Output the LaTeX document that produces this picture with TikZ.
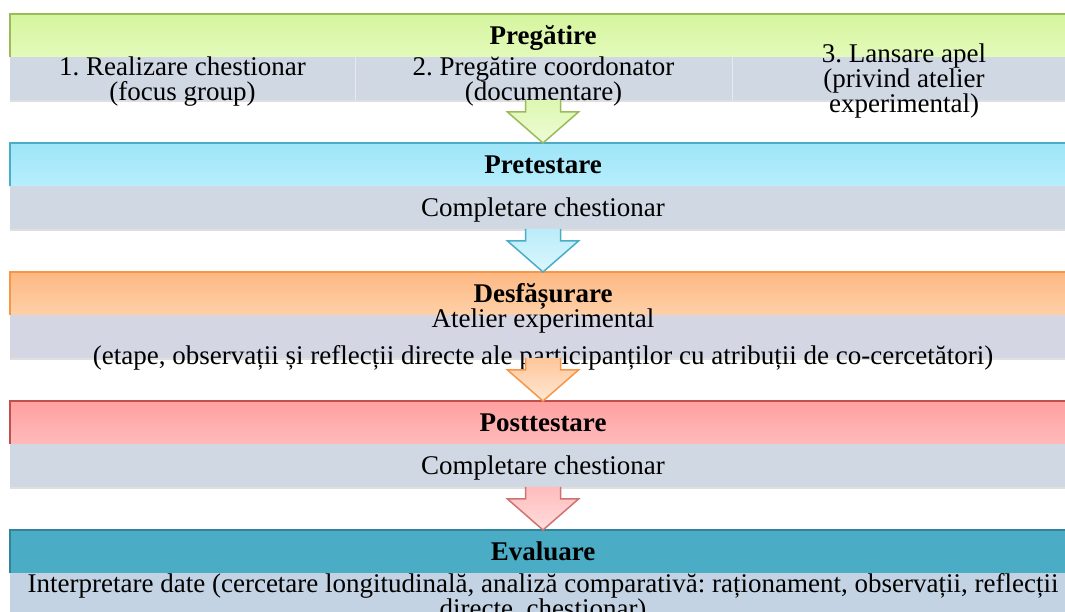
\documentclass[tikz,border=0pt]{standalone}
\usepackage{fontspec}
\setmainfont{Liberation Serif}
\frenchspacing
\usetikzlibrary{positioning,calc,shadows}
\definecolor{gri}{HTML}{D0D8E4}
\definecolor{griV}{HTML}{D4D7E3}
\definecolor{griE}{HTML}{C4D3E4}
\definecolor{verdeL}{HTML}{9BBB59}
\definecolor{verdeS}{HTML}{D5F59E}
\definecolor{verdeJ}{HTML}{E3FABA}
\definecolor{cyanL}{HTML}{4BACC6}
\definecolor{cyanS}{HTML}{9DE5F8}
\definecolor{cyanJ}{HTML}{B6EEFC}
\definecolor{portL}{HTML}{F79646}
\definecolor{portS}{HTML}{FDB882}
\definecolor{portJ}{HTML}{FED0A8}
\definecolor{rosuL}{HTML}{C0504D}
\definecolor{rosuS}{HTML}{FFA0A0}
\definecolor{rosuJ}{HTML}{FFBABA}
\definecolor{evalF}{HTML}{4BACC6}
\definecolor{evalL}{HTML}{31849B}
\begin{document}
\begin{tikzpicture}[x=1pt,y=1pt,
	etapa/.style={minimum width=1066pt,minimum height=43pt,inner sep=0pt,outer sep=0pt,text height=21pt,text depth=2pt,font=\bfseries\fontsize{27}{25}\selectfont},
	detaliu/.style={minimum height=43pt,inner sep=0pt,outer sep=0pt,text height=20pt,text depth=2pt,fill=gri,drop shadow={shadow xshift=0pt,shadow yshift=-2.5pt,opacity=.25},font=\fontsize{27}{25}\selectfont},
	scris/.style={align=center,inner sep=0pt,font=\fontsize{27}{25}\selectfont},
	chenar/.style={line width=1.6pt},
	sageata/.style={line width=1.5pt,line join=miter}]
		\clip (0,0) rectangle (1065,612);
		% Pregatire
		\node[etapa,top color=verdeS,bottom color=verdeJ] (prep) at (543,576.5) {Pregătire};
		\draw[chenar,verdeL] (prep.south west) -- (prep.north west) -- (prep.north east);
		\node[detaliu,minimum width=345pt,anchor=north west] (prepA) at (prep.south west) {};
		\node[detaliu,minimum width=377pt,right=0pt of prepA] (prepB) {};
		\node[detaliu,minimum width=344pt,right=0pt of prepB] (prepC) {};
		\draw[white,opacity=.5] (prepA.north east) -- (prepA.south east);
		\draw[white,opacity=.5] (prepB.north east) -- (prepB.south east);
		\node[scris] at ($(prepA)+(0,-3.5)$) {1. Realizare chestionar\\(focus group)};
		\node[scris] at ($(prepB)+(0,-3.5)$) {2. Pregătire coordonator\\(documentare)};
		\node[scris] at ($(prepC)+(0,-3)$) {3. Lansare apel\\(privind atelier\\experimental)};
		% Pretestare
		\node[etapa,top color=cyanS,bottom color=cyanJ] (pretest) at (543,447.5) {Pretestare};
		\draw[chenar,cyanL] (pretest.south west) -- (pretest.north west) -- (pretest.north east);
		\node[detaliu,minimum width=1066pt,below=0pt of pretest] (pretestsub) {Completare chestionar};
		% Desfasurare
		\node[etapa,top color=portS,bottom color=portJ] (desf) at (543,318.5) {Desfășurare};
		\draw[chenar,portL] (desf.south west) -- (desf.north west) -- (desf.north east);
		\node[detaliu,fill=griV,minimum width=1066pt,below=0pt of desf] (desfsub) {};
		\node[scris] at ($(desfsub)+(0,-3.5)$) {Atelier experimental\\[12pt](etape, observații și reflecții directe ale participanților cu atribuții de co-cercetători)};
		% Posttestare
		\node[etapa,top color=rosuS,bottom color=rosuJ] (postt) at (543,189.5) {Posttestare};
		\draw[chenar,rosuL] (postt.south west) -- (postt.north west) -- (postt.north east);
		\node[detaliu,minimum width=1066pt,below=0pt of postt] (posttsub) {Completare chestionar};
		% Evaluare
		\node[etapa,fill=evalF] (eval) at (543,60.5) {Evaluare};
		\draw[chenar,evalL] (eval.south west) -- (eval.north west) -- (eval.north east);
		\node[detaliu,fill=griE,minimum width=1066pt,below=0pt of eval] (evalsub) {};
		\node[scris,font=\fontsize{27}{21}\selectfont] at ($(evalsub)+(0,-4)$) {Interpretare date (cercetare longitudinală, analiză comparativă: raționament, observații, reflecții\\directe, chestionar)};
		% sageti
		\draw[sageata,draw=verdeL,top color=verdeS!80!white,bottom color=verdeJ!60!white] ($(pretest.north |- prepB.south)+(-17.5,0)$) -- ($(pretest.north)+(-17.5,31)$) -- ($(pretest.north)+(-35.5,31)$) -- (pretest.north) -- ($(pretest.north)+(35.5,31)$) -- ($(pretest.north)+(17.5,31)$) -- ($(pretest.north |- prepB.south)+(17.5,0)$);
		\draw[sageata,draw=cyanL,top color=cyanS!70!white,bottom color=cyanJ!50!white] ($(desf.north |- pretestsub.south)+(-17.5,0)$) -- ($(desf.north)+(-17.5,31)$) -- ($(desf.north)+(-35.5,31)$) -- (desf.north) -- ($(desf.north)+(35.5,31)$) -- ($(desf.north)+(17.5,31)$) -- ($(desf.north |- pretestsub.south)+(17.5,0)$);
		\draw[sageata,draw=portL,top color=portS!80!white,bottom color=portJ!50!white] ($(postt.north |- desfsub.south)+(-17.5,0)$) -- ($(postt.north)+(-17.5,31)$) -- ($(postt.north)+(-35.5,31)$) -- (postt.north) -- ($(postt.north)+(35.5,31)$) -- ($(postt.north)+(17.5,31)$) -- ($(postt.north |- desfsub.south)+(17.5,0)$);
		\draw[sageata,draw=rosuL!80!white,top color=rosuS!70!white,bottom color=rosuJ!50!white] ($(eval.north |- posttsub.south)+(-17.5,0)$) -- ($(eval.north)+(-17.5,31)$) -- ($(eval.north)+(-35.5,31)$) -- (eval.north) -- ($(eval.north)+(35.5,31)$) -- ($(eval.north)+(17.5,31)$) -- ($(eval.north |- posttsub.south)+(17.5,0)$);
\end{tikzpicture}
\end{document}
